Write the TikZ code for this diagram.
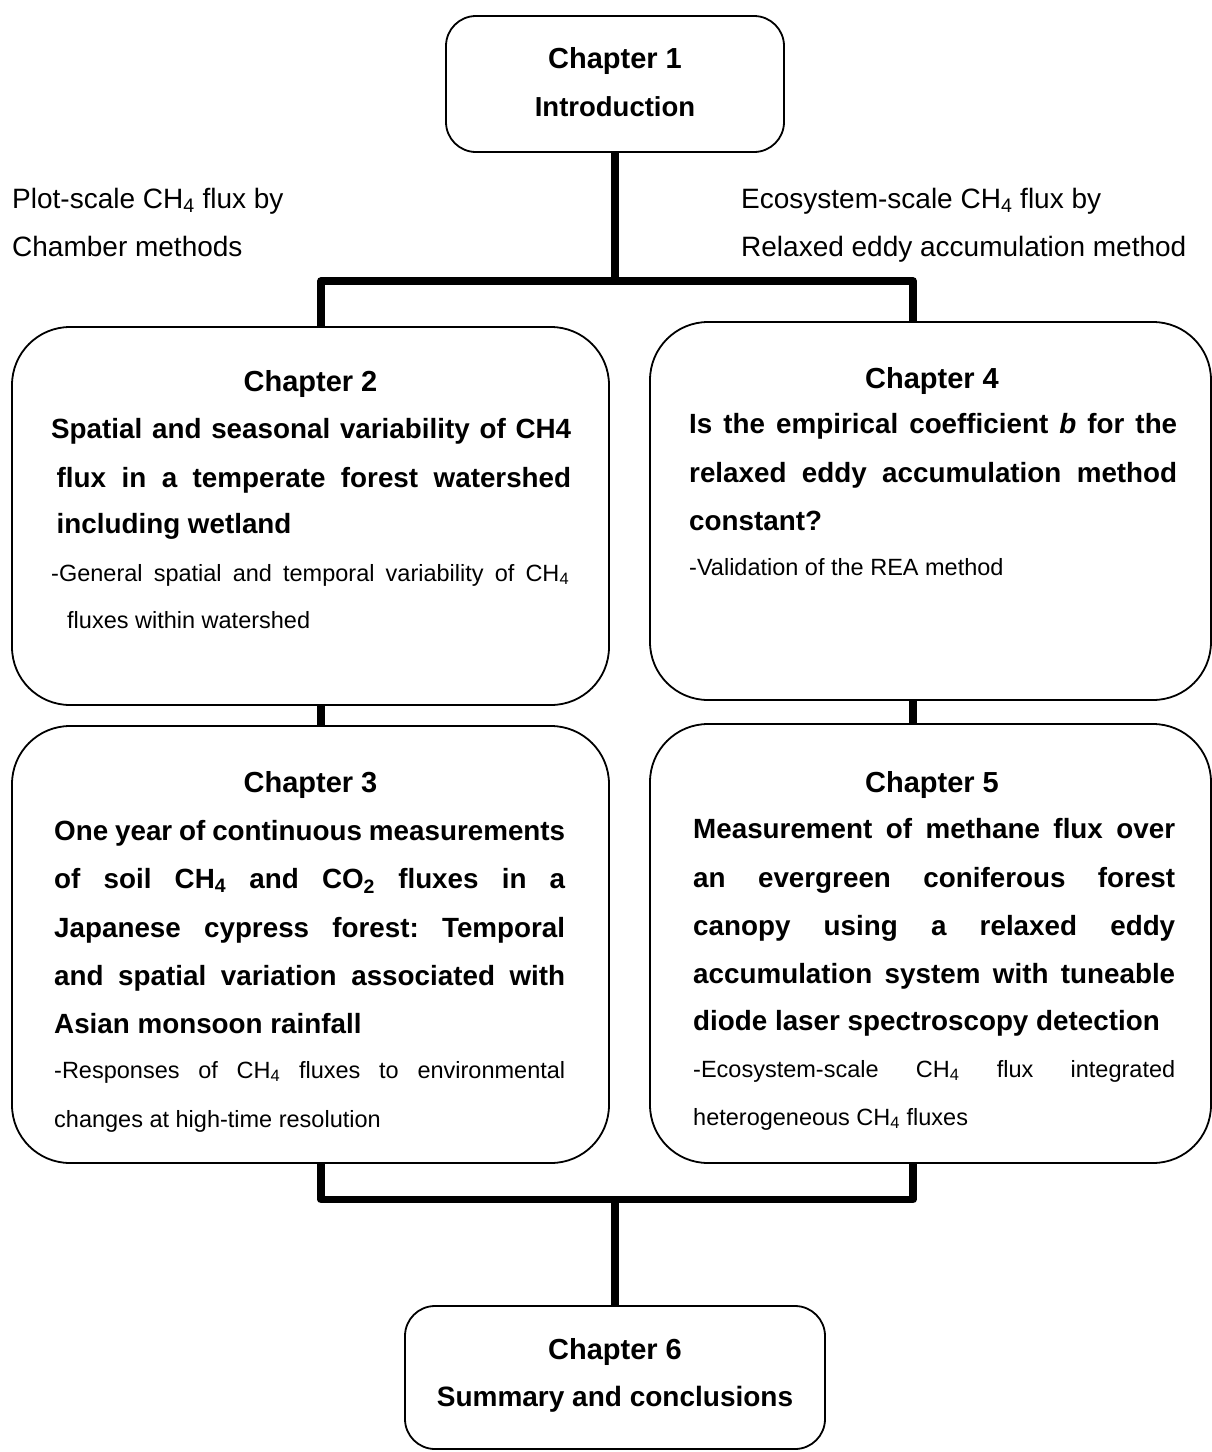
\documentclass[tikz,border=0pt]{standalone}
\usepackage{fontspec}
\setmainfont{Liberation Sans}
\frenchspacing
\newcommand\jl[2]{\makebox[#1][s]{#2}}
\begin{document}
\begin{tikzpicture}[x=1pt,y=-1pt,
  chbox/.style={draw, line width=1.8pt, rectangle, inner sep=0pt, outer sep=0pt},
  conn/.style={line width=7.5pt, line join=round},
  head/.style={anchor=base, inner sep=0pt, font=\fontsize{29}{34}\selectfont\bfseries},
  btxt/.style={anchor=base west, inner sep=0pt, font=\fontsize{27.8}{34}\selectfont\bfseries},
  stxt/.style={anchor=base west, inner sep=0pt, font=\fontsize{23.5}{28}\selectfont},
  side/.style={anchor=base west, inner sep=0pt, font=\fontsize{28}{34}\selectfont}]
\useasboundingbox (0,0) rectangle (1211,1452);

% boxes
\node[chbox, rounded corners=30pt, minimum width=338pt, minimum height=136pt] (c1) at (615,84) {};
\node[chbox, rounded corners=58pt, minimum width=597pt, minimum height=378pt] (c2) at (310.5,516) {};
\node[chbox, rounded corners=58pt, minimum width=561pt, minimum height=378pt] (c4) at (930.5,511) {};
\node[chbox, rounded corners=58pt, minimum width=597pt, minimum height=437pt] (c3) at (310.5,944.5) {};
\node[chbox, rounded corners=58pt, minimum width=561pt, minimum height=439pt] (c5) at (930.5,943.5) {};
\node[chbox, rounded corners=30pt, minimum width=420pt, minimum height=143pt] (c6) at (615,1377.5) {};

% junction coordinates
\coordinate (tl) at (321,281);
\coordinate (tr) at (913,281);
\coordinate (bl) at (321,1199.5);
\coordinate (br) at (913,1199.5);

% connectors
\draw[conn] (c1.south) -- (c1.south |- tl);
\draw[conn] (c2.north -| tl) -- (tl) -- (tr) -- (c4.north -| tr);
\draw[conn] (c2.south -| tl) -- (c3.north -| tl);
\draw[conn] (c4.south -| tr) -- (c5.north -| tr);
\draw[conn] (c3.south -| bl) -- (bl) -- (br) -- (c5.south -| br);
\draw[conn] (c6.north) -- (c6.north |- bl);

% chapter 1
\node[head] (t1a) at (615,68) {Chapter 1};
\node[head, font=\fontsize{27.5}{32}\selectfont\bfseries] (t1b) at (615,116) {Introduction};

% side labels
\node[side] (sl1) at (12,208) {Plot-scale CH\textsubscript{4} flux by};
\node[side] (sl2) at (12,256) {Chamber methods};
\node[side] (sr1) at (741,208) {Ecosystem-scale CH\textsubscript{4} flux by};
\node[side] (sr2) at (741,256) {Relaxed eddy accumulation method};

% chapter 2
\node[head] (t2a) at (310.5,391) {Chapter 2};
\node[btxt] (t2b) at (51,438) {\jl{520pt}{Spatial and seasonal variability of CH4}};
\node[btxt] (t2c) at (56.5,487) {\jl{514.5pt}{flux in a temperate forest watershed}};
\node[btxt] (t2d) at (56.5,533) {including wetland};
\node[stxt] (t2e) at (51,581) {\jl{518pt}{-General spatial and temporal variability of CH\textsubscript{4}}};
\node[stxt] (t2f) at (67,628) {fluxes within watershed};

% chapter 4
\node[head] (t4a) at (932,388) {Chapter 4};
\node[btxt] (t4b) at (689,433) {\jl{488pt}{Is the empirical coefficient \textit{b} for the}};
\node[btxt] (t4c) at (689,482) {\jl{488pt}{relaxed eddy accumulation method}};
\node[btxt] (t4d) at (689,530) {constant?};
\node[stxt] (t4e) at (689,575) {-Validation of the REA method};

% chapter 3
\node[head] (t3a) at (310.5,792) {Chapter 3};
\node[btxt] (t3b) at (54,840) {\jl{511pt}{One year of continuous measurements}};
\node[btxt] (t3c) at (54,888) {\jl{511pt}{of soil CH\textsubscript{4} and CO\textsubscript{2} fluxes in a}};
\node[btxt] (t3d) at (54,937) {\jl{511pt}{Japanese cypress forest: Temporal}};
\node[btxt] (t3e) at (54,985) {\jl{511pt}{and spatial variation associated with}};
\node[btxt] (t3f) at (54,1033) {Asian monsoon rainfall};
\node[stxt] (t3g) at (54,1078) {\jl{511pt}{-Responses of CH\textsubscript{4} fluxes to environmental}};
\node[stxt] (t3h) at (54,1127) {changes at high-time resolution};

% chapter 5
\node[head] (t5a) at (932,792) {Chapter 5};
\node[btxt] (t5b) at (693,838) {\jl{482pt}{Measurement of methane flux over}};
\node[btxt] (t5c) at (693,887) {\jl{482pt}{an evergreen coniferous forest}};
\node[btxt] (t5d) at (693,935) {\jl{482pt}{canopy using a relaxed eddy}};
\node[btxt] (t5e) at (693,983) {\jl{482pt}{accumulation system with tuneable}};
\node[btxt] (t5f) at (693,1030) {diode laser spectroscopy detection};
\node[stxt] (t5g) at (693,1077) {\jl{482pt}{-Ecosystem-scale CH\textsubscript{4} flux integrated}};
\node[stxt] (t5h) at (693,1125) {heterogeneous CH\textsubscript{4} fluxes};

% chapter 6
\node[head] (t6a) at (615,1359) {Chapter 6};
\node[head, font=\fontsize{28}{34}\selectfont\bfseries] (t6b) at (615,1406.5) {Summary and conclusions};
\end{tikzpicture}
\end{document}
